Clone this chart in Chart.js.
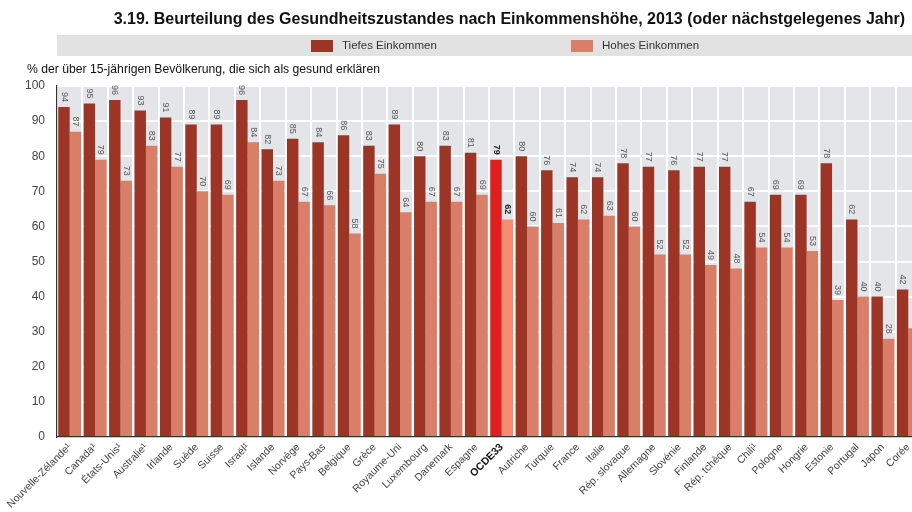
<!DOCTYPE html>
<html>
<head>
<meta charset="utf-8">
<script src="https://cdn.jsdelivr.net/npm/chart.js@4/dist/chart.umd.min.js"></script>
<style>
  html, body { margin: 0; padding: 0; background: #fff; overflow: hidden; }
  #wrap { position: relative; width: 925px; height: 512px; }
</style>
</head>
<body>
<div id="wrap"><canvas id="chart" width="925" height="512"></canvas></div>
<script>
// Daten
const laender = ['Nouvelle-Zélande¹', 'Canada¹', 'États-Unis¹', 'Australie¹', 'Irlande', 'Suède', 'Suisse', 'Israël¹',
  'Islande', 'Norvège', 'Pays-Bas', 'Belgique', 'Grèce', 'Royaume-Uni', 'Luxembourg', 'Danemark', 'Espagne',
  'OCDE33', 'Autriche', 'Turquie', 'France', 'Italie', 'Rép. slovaque', 'Allemagne', 'Slovénie', 'Finlande',
  'Rép. tchèque', 'Chili¹', 'Pologne', 'Hongrie', 'Estonie', 'Portugal', 'Japon', 'Corée'];
const tiefesEinkommen = [94, 95, 96, 93, 91, 89, 89, 96, 82, 85, 84, 86, 83, 89, 80, 83, 81,
  79, 80, 76, 74, 74, 78, 77, 76, 77, 77, 67, 69, 69, 78, 62, 40, 42];
const hohesEinkommen = [87, 79, 73, 83, 77, 70, 69, 84, 73, 67, 66, 58, 75, 64, 67, 67, 69,
  62, 60, 61, 62, 63, 60, 52, 52, 49, 48, 54, 54, 53, 39, 40, 28, 31];
const yTicks = [0, 10, 20, 30, 40, 50, 60, 70, 80, 90, 100];

const TITEL = '3.19. Beurteilung des Gesundheitszustandes nach Einkommenshöhe, 2013 (oder nächstgelegenes Jahr)';
const UNTERTITEL = '% der über 15-jährigen Bevölkerung, die sich als gesund erklären';
const OECD = 'OCDE33';

const DUNKEL = '#9c3526', HELL = '#d97e69';
const DUNKEL_OECD = '#e11e1e', HELL_OECD = '#f58d71';
const SANS = '"Liberation Sans", Arial, sans-serif';

const farbe = (normal, oecd) => laender.map(l => l === OECD ? oecd : normal);

// Kopf: Titel, Legendenband, Untertitel + grauer Plotbereich
const kopfPlugin = {
  id: 'kopf',
  beforeDraw(chart) {
    const ctx = chart.ctx, a = chart.chartArea;
    ctx.save();
    ctx.fillStyle = '#e3e5e9';
    ctx.fillRect(a.left, a.top, a.right - a.left, a.bottom - a.top);

    ctx.fillStyle = '#111';
    ctx.font = 'bold 16px ' + SANS;
    ctx.textAlign = 'right';
    ctx.textBaseline = 'middle';
    ctx.fillText(TITEL, 905, 20);

    ctx.fillStyle = '#e2e2e2';
    ctx.fillRect(57, 35, 868, 21);
    ctx.font = '11.5px ' + SANS;
    ctx.textAlign = 'left';
    const lx = [311, 571];
    chart.data.datasets.forEach((ds, i) => {
      ctx.fillStyle = i === 0 ? DUNKEL : HELL;
      ctx.fillRect(lx[i], 40, 22, 12);
      ctx.fillStyle = '#333';
      ctx.fillText(ds.label, lx[i] + 31, 46);
    });

    ctx.fillStyle = '#111';
    ctx.font = '12.2px ' + SANS;
    ctx.fillText(UNTERTITEL, 27, 70);
    ctx.restore();
  }
};

// Wertbeschriftungen, um 90° gedreht über den Balken
const wertePlugin = {
  id: 'werte',
  afterDatasetsDraw(chart) {
    const ctx = chart.ctx;
    ctx.save();
    chart.data.datasets.forEach((ds, di) => {
      chart.getDatasetMeta(di).data.forEach((bar, i) => {
        const oecd = laender[i] === OECD;
        ctx.save();
        ctx.translate(bar.x, bar.y - 5);
        ctx.rotate(Math.PI / 2);
        ctx.font = (oecd ? 'bold ' : '') + '9px ' + SANS;
        ctx.fillStyle = oecd ? '#222' : '#555';
        ctx.textAlign = 'right';
        ctx.textBaseline = 'middle';
        ctx.fillText(String(ds.data[i]), 0, 0);
        ctx.restore();
      });
    });
    ctx.restore();
  }
};

new Chart(document.getElementById('chart'), {
  type: 'bar',
  data: {
    labels: laender,
    datasets: [
      { label: 'Tiefes Einkommen', data: tiefesEinkommen, backgroundColor: farbe(DUNKEL, DUNKEL_OECD) },
      { label: 'Hohes Einkommen', data: hohesEinkommen, backgroundColor: farbe(HELL, HELL_OECD) }
    ]
  },
  options: {
    responsive: false,
    animation: false,
    devicePixelRatio: 1,
    layout: { padding: { top: 86, right: 4, left: 0, bottom: 0 } },
    datasets: { bar: { categoryPercentage: 0.9, barPercentage: 1.0 } },
    plugins: {
      legend: { display: false },
      title: { display: false },
      tooltip: { enabled: false }
    },
    scales: {
      x: {
        grid: { offset: true, color: '#ffffff', lineWidth: 2, drawTicks: false },
        border: { color: '#333', width: 1.2 },
        ticks: {
          autoSkip: false,
          maxRotation: 45,
          minRotation: 45,
          padding: 4,
          color: ctx => laender[ctx.index] === OECD ? '#111' : '#444',
          font: ctx => ({
            family: SANS,
            size: 10.5,
            weight: laender[ctx.index] === OECD ? 'bold' : 'normal'
          })
        },
        afterFit(scale) { scale.height = 75; }
      },
      y: {
        min: 0,
        max: 100,
        afterBuildTicks(scale) { scale.ticks = yTicks.map(v => ({ value: v })); },
        grid: { color: '#ffffff', lineWidth: 2, drawTicks: false },
        border: { color: '#333', width: 1.2 },
        ticks: {
          padding: 12,
          color: '#444',
          font: { family: SANS, size: 12 }
        },
        afterFit(scale) { scale.width = 57; }
      }
    }
  },
  plugins: [kopfPlugin, wertePlugin]
});
</script>
</body>
</html>
